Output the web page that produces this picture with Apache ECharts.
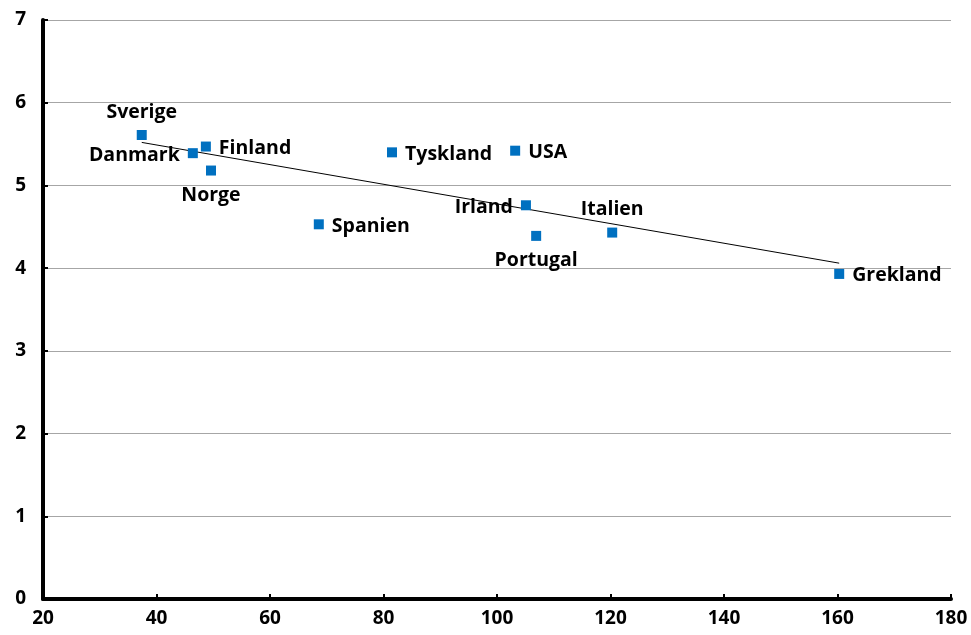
<!DOCTYPE html>
<html><head><meta charset="utf-8">
<script src="https://cdn.jsdelivr.net/npm/echarts@6/dist/echarts.min.js"></script>
<style>html,body{margin:0;padding:0;background:#fff}#c{width:971px;height:635px}</style>
</head><body><div id="c"></div>
<script>
var countries = ["Sverige","Danmark","Finland","Norge","Spanien","Tyskland","USA","Irland","Portugal","Italien","Grekland"];
var xValues = [37.4, 46.4, 48.7, 49.6, 68.6, 81.5, 103.2, 105.1, 106.9, 120.3, 160.3];
var yValues = [5.61, 5.39, 5.47, 5.18, 4.53, 5.40, 5.42, 4.76, 4.39, 4.43, 3.93];
var labelPos = ["top","left","right","bottom","right","right","right","left","bottom","top","right"];
var trendX = [37.4, 160.3];
var trendY = [5.52, 4.06];

var FONT = "Open Sans";
var pts = countries.map(function(n,i){
  var p = labelPos[i];
  var lbl = {position:p};
  if (p === 'bottom') lbl.distance = 10;
  if (p === 'left' || p === 'right') lbl.offset = [0, 2];
  return {value:[xValues[i], yValues[i]], name:n, label:lbl};
});
var chart = echarts.init(document.getElementById('c'));
chart.setOption({
  animation:false,
  grid:{left:43,right:20,top:20,bottom:36,containLabel:false},
  xAxis:{type:'value',min:20,max:180,interval:20,
    axisLine:{lineStyle:{color:'#000',width:4}},
    axisTick:{show:true,inside:true,length:5,lineStyle:{color:'#000',width:2}},
    axisLabel:{color:'#000',fontWeight:'bold',fontSize:19,fontFamily:FONT,margin:10},
    splitLine:{show:false}},
  yAxis:{type:'value',min:0,max:7,interval:1,
    axisLine:{show:true,lineStyle:{color:'#000',width:4}},
    axisTick:{show:true,inside:true,length:5,lineStyle:{color:'#000',width:2}},
    axisLabel:{color:'#000',fontWeight:'bold',fontSize:19,fontFamily:FONT,margin:17},
    splitLine:{show:true,lineStyle:{color:'#a6a6a6',width:1}}},
  series:[
    {type:'line',data:trendX.map(function(x,i){return [x,trendY[i]];}),
     symbol:'none',lineStyle:{color:'#000',width:1},z:1,silent:true},
    {type:'scatter',data:pts,symbol:'rect',symbolSize:10,
     itemStyle:{color:'#0070C0',opacity:1},z:3,
     label:{show:true,formatter:'{b}',color:'#000',fontWeight:'bold',fontSize:19.5,fontFamily:FONT,distance:8}}
  ]
});
</script></body></html>
